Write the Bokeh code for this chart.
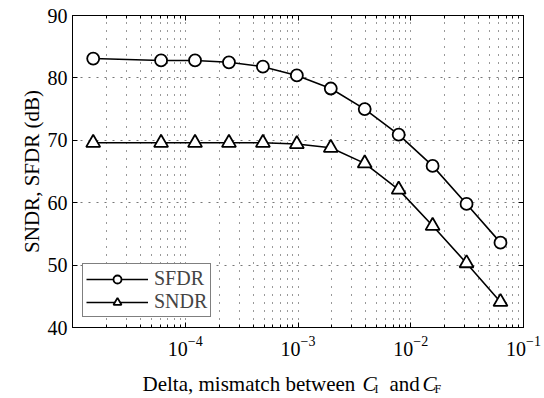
from bokeh.plotting import figure
from bokeh.models import (FixedTicker, LogAxis, LinearAxis, Legend, LegendItem, Range1d,
                          LogTickFormatter)
from bokeh.layouts import column
from bokeh.core.properties import value
from bokeh.embed import file_html
from bokeh.resources import INLINE

# ---- data ----
delta = [1.526e-5, 6.104e-5, 1.221e-4, 2.441e-4, 4.883e-4, 9.766e-4,
         1.953e-3, 3.906e-3, 7.813e-3, 1.563e-2, 3.125e-2, 6.25e-2]
sfdr = [83.1, 82.8, 82.8, 82.5, 81.8, 80.4, 78.3, 75.0, 70.9, 65.9, 59.8, 53.6]
sndr = [69.6, 69.6, 69.6, 69.6, 69.6, 69.4, 68.8, 66.3, 62.1, 56.3, 50.3, 44.1]
x_major = [1e-4, 1e-3, 1e-2, 1e-1]
y_major = [40, 50, 60, 70, 80, 90]

FONT = "Liberation Serif"
W, H = 544, 398
X0, X1, Y0, Y1 = 1e-5, 1e-1, 40, 90
FL, FR, FT, FB = 72, 523, 15, 327  # frame edges in canvas pixels
H1 = 362                            # main figure height; below it a strip for the x title

p = figure(width=W, height=H1, x_axis_type="log",
           x_range=Range1d(X0, X1), y_range=Range1d(Y0, Y1),
           output_backend="svg", toolbar_location=None,
           min_border_left=FL, min_border_right=W - FR, min_border_top=FT,
           min_border_bottom=H1 - FB)
p.background_fill_color = "white"
p.border_fill_color = "white"
p.outline_line_color = "black"
p.outline_line_width = 1

minor = [m * 10.0 ** e for e in range(-5, -1) for m in range(2, 10)]
xt = FixedTicker(ticks=x_major, minor_ticks=minor)
yt = FixedTicker(ticks=y_major)


def style_axis(ax, labels=True):
    ax.axis_line_color = "black"
    ax.major_tick_in = 5
    ax.major_tick_out = 0
    ax.minor_tick_in = 3
    ax.minor_tick_out = 0
    ax.major_tick_line_color = "black"
    ax.minor_tick_line_color = "black"
    ax.major_label_text_font = FONT
    if labels:
        ax.major_label_text_font_size = "20px"
        ax.major_label_text_color = "black"
    else:
        ax.major_label_text_font_size = "1px"
        ax.major_label_text_color = None
        ax.major_label_standoff = 0


xa = p.xaxis[0]
xa.ticker = xt
xa.formatter = LogTickFormatter()
style_axis(xa)
xa.major_label_standoff = 8

ya = p.yaxis[0]
ya.ticker = yt
style_axis(ya)
ya.minor_tick_in = 0
ya.major_label_standoff = 5
ya.axis_label = "SNDR, SFDR (dB)"
ya.axis_label_text_font = FONT
ya.axis_label_text_font_style = "normal"
ya.axis_label_text_font_size = "21px"
ya.axis_label_text_color = "black"
ya.axis_label_standoff = 1

top = LogAxis(ticker=xt)
style_axis(top, labels=False)
p.add_layout(top, "above")
right = LinearAxis(ticker=yt)
style_axis(right, labels=False)
right.minor_tick_in = 0
p.add_layout(right, "right")

# grids
p.xgrid.ticker = xt
p.xgrid.grid_line_color = "#333333"
p.xgrid.grid_line_dash = "1 7"
p.xgrid.minor_grid_line_color = "#333333"
p.xgrid.minor_grid_line_dash = "1 7"
p.ygrid.ticker = yt
p.ygrid.grid_line_color = "#777777"
p.ygrid.grid_line_dash = "2 6"

# data
l1 = p.line(delta, sfdr, line_color="black", line_width=1.6)
m1 = p.scatter(delta, sfdr, marker="circle", size=12, fill_color="white",
               line_color="black", line_width=1.8)
l2 = p.line(delta, sndr, line_color="black", line_width=1.6)
m2 = p.scatter(delta, sndr, marker="triangle", size=14, fill_color="white",
               line_color="black", line_width=1.8)

legend = Legend(items=[LegendItem(label="SFDR", renderers=[l1, m1]),
                       LegendItem(label="SNDR", renderers=[l2, m2])],
                location="bottom_left")
legend.margin = 10
legend.padding = 3
legend.spacing = 0
legend.glyph_width = 62
legend.glyph_height = 20
legend.label_height = 20
legend.label_standoff = 6
legend.label_text_font = FONT
legend.label_text_font_size = "20px"
legend.border_line_color = "black"
legend.border_line_width = 1
legend.background_fill_color = "white"
legend.background_fill_alpha = 1
p.add_layout(legend)

# ---- strip below the plot for the x-axis title (same frame edges as the plot) ----
H2 = H - H1
p2 = figure(width=W, height=H2, x_range=Range1d(FL, FR), y_range=Range1d(0, H2),
            output_backend="svg", toolbar_location=None,
            x_axis_location=None, y_axis_location=None,
            min_border_left=FL, min_border_right=W - FR, min_border_top=0, min_border_bottom=0)
p2.outline_line_color = None
p2.grid.visible = False
p2.background_fill_color = "white"
p2.border_fill_color = "white"

# x-axis title with italic C and subscripts I, F (positions in page pixels)
t_txt = ["Delta, mismatch between", "C", "I", "and", "C", "F"]
t_px = [142, 362, 374, 389, 422, 434]
t_py = [383, 383, 388, 383, 383, 388]
t_size = ["21px", "21px", "12px", "21px", "21px", "12px"]
t_style = ["normal", "italic", "normal", "normal", "italic", "normal"]
p2.text(x=t_px, y=[H - v for v in t_py], text=t_txt,
        text_font=value(FONT), text_font_size=t_size, text_font_style=t_style,
        text_align="left", text_baseline="alphabetic", text_color="black")

page = column(p, p2, spacing=0)
open("out.html", "w").write(file_html(page, INLINE))
